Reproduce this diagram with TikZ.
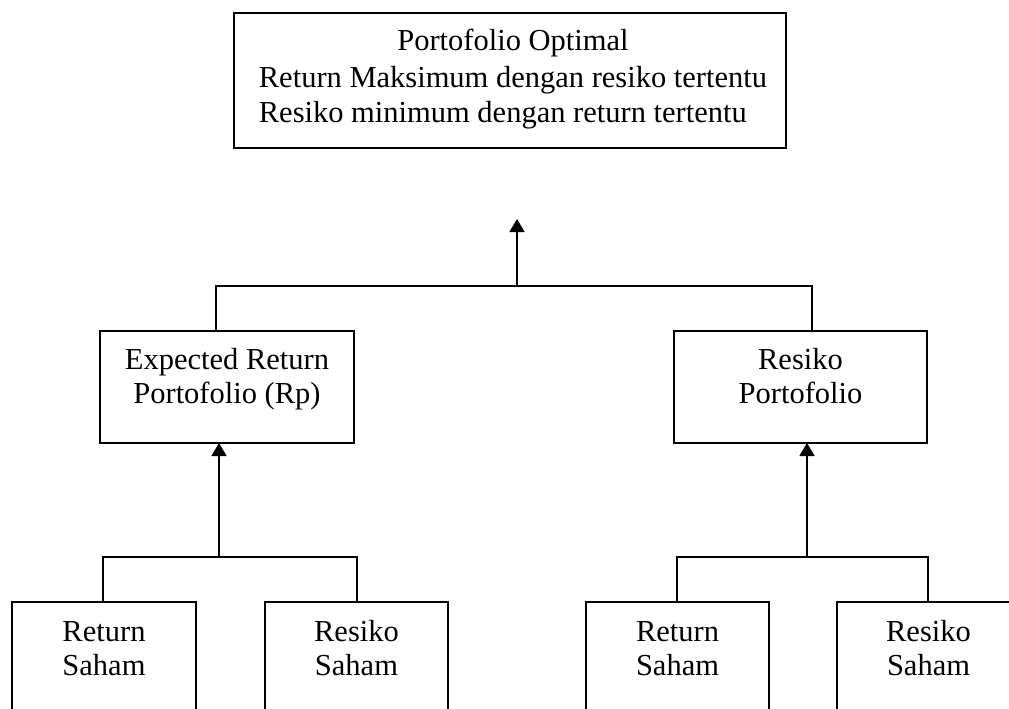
\documentclass[tikz,border=0pt]{standalone}
\usepackage{fontspec}
\setmainfont{Liberation Serif}
\usetikzlibrary{arrows.meta}
\begin{document}
\begin{tikzpicture}[x=1pt,y=-1pt,
  box/.style={draw, line width=1.6pt, inner xsep=0pt, inner ysep=0pt, outer sep=0pt,
    align=center, anchor=north west, font=\fontsize{30.5}{34}\selectfont},
  link/.style={line width=1.6pt},
  uparrow/.style={line width=1.6pt, -{Triangle[width=15pt,length=13pt]}}]
\useasboundingbox (0,0) rectangle (1009,709);
\clip (0,0) rectangle (1009,709);
\fill[white] (0,0) rectangle (1009,709);

% goal box
\node[box, minimum width=552pt, text height=38pt, text depth=97pt,
      font=\fontsize{30.5}{36}\selectfont] (opt) at (234,13)
  {\hspace*{6pt}\begin{tabular}[t]{@{}l@{}}\multicolumn{1}{@{}c@{}}{Portofolio Optimal}\\
   Return Maksimum dengan resiko tertentu\\
   Resiko minimum dengan return tertentu\end{tabular}};

% middle level (text height reaches the last baseline)
\node[box, minimum width=254pt, text height=72pt, text depth=40pt] (er) at (100,331)
  {Expected Return\\Portofolio (Rp)};
\node[box, minimum width=253pt, text height=72pt, text depth=40pt] (rp) at (674,331)
  {Resiko\\Portofolio};

% bottom level
\node[box, minimum width=184pt, text height=73pt, text depth=90pt] (rs1) at (12,602)
  {Return\\Saham};
\node[box, minimum width=183pt, text height=73pt, text depth=90pt] (rk1) at (265,602)
  {Resiko\\Saham};
\node[box, minimum width=183pt, text height=73pt, text depth=90pt] (rs2) at (586,602)
  {Return\\Saham};
\node[box, minimum width=183pt, text height=73pt, text depth=90pt] (rk2) at (837,602)
  {Resiko\\Saham};

% top junction
\coordinate (topjoin) at (517,286);
\coordinate (toptip) at (517,219);
\coordinate (tl) at (216,286);
\coordinate (tr) at (812,286);
\draw[link] (tl |- er.north) -- (tl) -- (tr) -- (tr |- rp.north);
\draw[uparrow] (topjoin) -- (toptip);

% left junction
\coordinate (ljoin) at (219,557);
\coordinate (ll) at (103,557);
\coordinate (lr) at (357,557);
\draw[link] (ll |- rs1.north) -- (ll) -- (lr) -- (lr |- rk1.north);
\draw[uparrow] (ljoin) -- (er.south -| ljoin);

% right junction
\coordinate (rjoin) at (807,557);
\coordinate (rl) at (677,557);
\coordinate (rr) at (928,557);
\draw[link] (rl |- rs2.north) -- (rl) -- (rr) -- (rr |- rk2.north);
\draw[uparrow] (rjoin) -- (rp.south -| rjoin);
\end{tikzpicture}
\end{document}
